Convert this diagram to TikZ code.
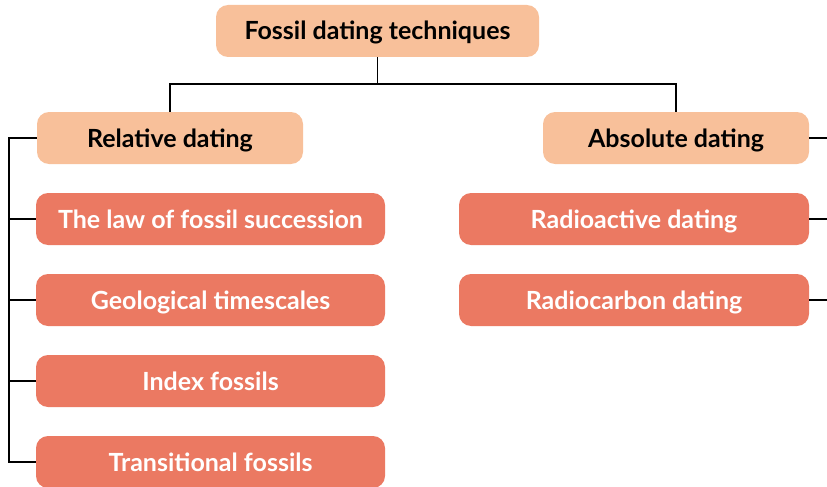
\documentclass[tikz,border=0pt]{standalone}
\usepackage{fontspec}
\setmainfont{Lato}
\begin{document}
\begin{tikzpicture}[x=1pt,y=-1pt,
  base/.style={rounded corners=12pt,minimum height=52pt,inner sep=0pt,
    text height=18pt,text depth=0pt,
    font=\fontsize{25}{29}\selectfont\bfseries},
  head/.style={base,fill=peach,text=black},
  item/.style={base,fill=salmon,text=white},
  link/.style={draw=black,line width=1.6pt}]
\definecolor{peach}{RGB}{248,192,154}
\definecolor{salmon}{RGB}{235,121,98}
\useasboundingbox (0,0) rectangle (827,487);

% headings
\node[head,minimum width=323pt] (top) at (377.5,31) {Fossil dating techniques};
\node[head,minimum width=266pt] (rel) at (170,138) {Relative dating};
\node[head,minimum width=266pt] (abs) at (676,138) {Absolute dating};

% relative dating methods
\node[item,minimum width=349pt] (l1) at (210.5,219) {The law of fossil succession};
\node[item,minimum width=349pt] (l2) at (210.5,300) {Geological timescales};
\node[item,minimum width=349pt] (l3) at (210.5,381) {Index fossils};
\node[item,minimum width=349pt] (l4) at (210.5,462) {Transitional fossils};

% absolute dating methods
\node[item,minimum width=350pt] (r1) at (634,219) {Radioactive dating};
\node[item,minimum width=350pt] (r2) at (634,300) {Radiocarbon dating};

% tree connectors
\coordinate (bus) at (377.5,84);
\coordinate (trunk) at (9,0);
\coordinate (edge) at (827,0);
\draw[link] (top.south) -- (bus);
\draw[link] (rel.north) |- (bus) -| (abs.north);
\draw[link] (rel.west) -- (rel.west -| trunk) -- (l4.west -| trunk) -- (l4.west);
\foreach \n in {l1,l2,l3} \draw[link] (\n.west -| trunk) -- (\n.west);
\foreach \n in {abs,r1,r2} \draw[link] (\n.east) -- (\n.east -| edge);
\end{tikzpicture}
\end{document}
